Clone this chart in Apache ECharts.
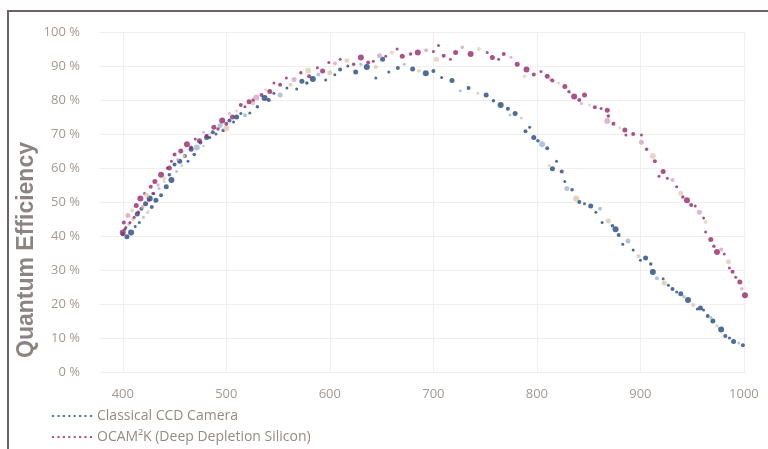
<!DOCTYPE html>
<html>
<head>
<meta charset="utf-8">
<script src="https://cdn.jsdelivr.net/npm/echarts@6/dist/echarts.min.js"></script>
<style>
    html, body {margin: 0; padding: 0; background: #fff;}
    #main {position: absolute; left: 0; top: 0; width: 768px; height: 449px;}
    #frame {position: absolute; left: 7px; top: 10px; right: 0; bottom: 0;
        border-top: 2px solid #6a6464; border-left: 2px solid #6a6464; pointer-events: none;}
</style>
</head>
<body>
<div id="main"></div>
<div id="frame"></div>
<script>
    // wavelength (nm) / quantum efficiency (%)
    const ccdWavelength = [400, 402, 404, 406, 408, 410, 412, 414, 416, 418, 420, 422, 424, 426, 428, 430, 432, 435, 437, 440,
        442, 445, 447, 450, 452, 455, 457, 460, 463, 466, 469, 471.5, 475, 478, 481, 484, 487, 490, 494, 497,
        500, 503, 507, 510, 514, 518, 522.7, 525.6, 530, 537, 541, 546, 552, 558.5, 562, 568, 573, 577.8, 583.6, 589,
        596, 600, 604.8, 610, 617.4, 625, 630, 635.7, 644.4, 644.4, 651, 657, 665.7, 672, 680, 686, 692.7, 700, 708, 718,
        726, 734, 743, 751, 758, 765, 772, 774, 779, 785, 789, 793, 797, 801, 805, 810, 812, 815, 819, 824,
        827, 829, 834, 838, 841, 846, 852, 857, 861, 863, 869, 873, 876, 879, 883, 888, 893, 898, 900, 905,
        910, 912, 916, 922, 923, 927, 931, 935, 939, 942, 946, 951, 955, 958, 961, 965, 968, 970, 974, 978,
        982, 986, 990, 995, 999];
    const ccdQE = [40.5, 42, 39.8, 43.5, 41, 45, 42.8, 46.5, 44, 48, 45.5, 49.5, 47, 51, 48.5, 52.5, 50.5, 54, 52, 56,
        54.5, 58, 56.5, 61, 59, 62, 60.7, 63.5, 62, 65.5, 64, 66, 67.5, 66.5, 69, 69, 70.5, 70, 72.5, 71,
        71.7, 74, 73.5, 75, 76, 75.5, 76.2, 79.1, 78, 80.6, 80, 82, 81.5, 83.5, 84.5, 83.2, 85.5, 85, 86.2, 87.5,
        85.9, 88, 87.4, 89, 90, 88.2, 90.5, 89.7, 89.7, 86.5, 92, 88.2, 89.4, 90.5, 89.1, 88.5, 87.9, 88.5, 86.6, 85.7,
        82.7, 83.5, 82, 81.5, 79.8, 78.5, 77.4, 75.6, 76, 74.7, 70.8, 72, 69, 68, 67, 65.8, 60.7, 59.8, 62, 59,
        56, 54, 53.6, 51, 50, 49.5, 48.8, 47, 48, 44, 44.4, 43, 42, 40.3, 37.6, 38.5, 35.9, 34.1, 32.9, 33.5,
        31.8, 29.4, 27.6, 27.4, 26.2, 25.5, 24.4, 23.5, 23, 22.1, 21.2, 19.7, 18.5, 18.8, 18.2, 16.5, 16, 15, 13.5, 12.5,
        10.6, 10, 9, 8.5, 7.9];

    const ocamWavelength = [400, 401, 403, 405, 407, 409, 411, 413, 415, 417, 419, 421, 423, 425, 427, 429, 431, 434, 437, 440,
        443, 445, 447, 450, 453, 456, 459, 462, 466, 470, 474, 478, 481, 484, 488, 492, 496, 500, 503, 506,
        510, 514, 518, 522, 526, 529, 534, 538, 542, 546, 552, 558, 565.5, 572, 579, 580, 588, 593, 599, 605,
        610, 616.5, 623, 630, 637, 642, 648, 654, 660, 665, 670, 678, 685, 693, 700, 703, 705, 710, 716.5, 721.5,
        728, 736, 744, 752, 757, 763, 768, 775, 781, 788, 790, 797, 804, 810, 813, 815, 821, 827, 831, 836,
        841, 843, 846, 851, 856, 862, 868, 869, 868, 874, 880, 885, 886, 893, 901, 901, 906, 912, 914, 918,
        922, 926, 931, 935, 939, 941, 945, 949, 953, 957, 961, 963, 963, 968, 971, 974, 978, 981, 985, 986,
        989, 992, 996, 998, 1001];
    const ocamQE = [41, 44, 42.5, 46, 44, 47.5, 45.5, 49, 47, 51, 48.5, 52.5, 52, 50.5, 54.5, 52.5, 56, 55, 58, 57,
        60, 60, 62, 64, 62.5, 65, 63.5, 67, 66, 68.5, 68, 70.5, 69.5, 70, 72, 71.5, 74, 73, 76, 75,
        76.8, 78.5, 78, 79.5, 80, 80.7, 81.5, 83, 82.5, 85, 84.5, 86.5, 86, 88, 88.7, 87, 89.5, 88.5, 91, 90.7,
        92, 91.6, 90.5, 92.5, 91, 91.4, 93, 92.9, 94, 95, 92.9, 93.5, 94, 94.6, 94.3, 92, 96, 93, 92, 94,
        95.5, 93.5, 95, 94, 92.5, 92, 93.5, 92.6, 90.5, 87, 89, 87.5, 88.4, 87, 86, 85.7, 85, 84, 82.4, 81,
        80, 79, 81.5, 78.5, 77.9, 77.5, 77, 75.3, 73.8, 73, 71.8, 71.2, 69.7, 70, 69.7, 67.6, 65.5, 63.5, 62, 57.6,
        59, 57, 56.5, 54.5, 52.6, 51.5, 50.5, 49.1, 48.8, 47, 45.3, 44.1, 41.2, 39, 37, 35.3, 36, 34.7, 32.4, 30.6,
        29.5, 27.9, 26.5, 24.5, 22.6];

    const xTicks = [400, 500, 600, 700, 800, 900, 1000];
    const seriesNames = ['Classical CCD Camera', 'OCAM²K (Deep Depletion Silicon)'];

    const dotSizes = [4, 3, 5, 3.5, 6, 4, 3, 5, 3];
    const dotIcon = 'path://M0,0h2v2h-2zM5,0h2v2h-2zM10,0h2v2h-2zM15,0h2v2h-2zM20,0h2v2h-2zM25,0h2v2h-2zM30,0h2v2h-2zM35,0h2v2h-2z';

    function dotColor(dark, faint, pale) {
        return function (p) {
            const k = p.dataIndex % 7;
            if (k === 3) return faint;
            if (k === 5) return pale;
            return dark;
        };
    }

    const myChart = echarts.init(document.getElementById('main'));
    myChart.setOption({
        animation: false,
        textStyle: {fontFamily: 'Open Sans'},
        grid: {left: 100, right: 22, top: 32, bottom: 77},
        graphic: [{
            type: 'text',
            x: 27, y: 250,
            rotation: Math.PI / 2,
            style: {
                text: 'Quantum Efficiency',
                fill: '#8b8480',
                font: 'bold 23px "Liberation Sans", Arial, sans-serif',
                align: 'center',
                verticalAlign: 'middle'
            }
        }],
        legend: {
            orient: 'vertical',
            left: 52,
            top: 409,
            height: 60,
            padding: 0,
            itemWidth: 40,
            itemHeight: 3,
            itemGap: 7,
            icon: dotIcon,
            textStyle: {color: '#948b84', fontSize: 14, fontFamily: 'Open Sans'},
            data: [
                {name: seriesNames[0], itemStyle: {color: '#24508a'}},
                {name: seriesNames[1], itemStyle: {color: '#9a2f72'}}
            ]
        },
        xAxis: {
            type: 'value',
            min: 378,
            max: 1002,
            axisLine: {show: false},
            axisTick: {show: false, customValues: xTicks},
            axisLabel: {customValues: xTicks, formatter: v => String(v), color: '#a39a92', fontSize: 13, margin: 16},
            splitLine: {show: true, lineStyle: {color: '#f1eeeb'}}
        },
        yAxis: {
            type: 'value',
            min: 0,
            max: 100,
            interval: 10,
            axisLine: {show: false},
            axisTick: {show: false},
            axisLabel: {formatter: '{value} %', color: '#a39a92', fontSize: 13, margin: 20},
            splitLine: {lineStyle: {color: '#f1eeeb'}}
        },
        series: [
            {
                name: seriesNames[0],
                type: 'scatter',
                data: ccdWavelength.map((w, i) => [w, ccdQE[i]]),
                symbolSize: (v, p) => dotSizes[p.dataIndex % dotSizes.length],
                itemStyle: {color: dotColor('#22497d', '#9fb8d2', '#d9c6b0')}
            },
            {
                name: seriesNames[1],
                type: 'scatter',
                data: ocamWavelength.map((w, i) => [w, ocamQE[i]]),
                symbolSize: (v, p) => dotSizes[(p.dataIndex + 4) % dotSizes.length],
                itemStyle: {color: dotColor('#93286b', '#d8a3c4', '#e3cdb8')}
            }
        ]
    });
</script>
</body>
</html>
